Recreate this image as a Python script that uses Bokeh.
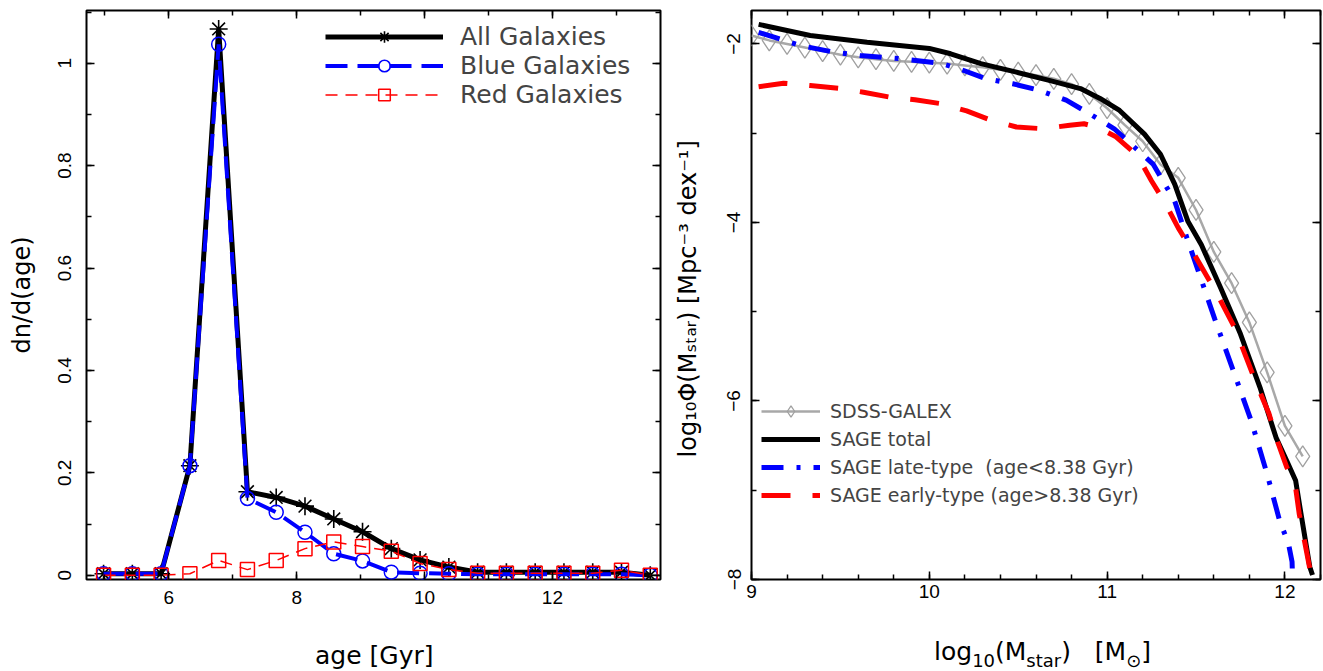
from bokeh.plotting import figure
from bokeh.models import (Range1d, LinearAxis, SingleIntervalTicker, CustomJSTickFormatter,
                          CustomLabelingPolicy, Legend, LegendItem, Div)
from bokeh.layouts import row, column
from bokeh.embed import file_html
from bokeh.resources import INLINE

# ---------------- left panel data ----------------
age = [4.98, 5.43, 5.88, 6.33, 6.78, 7.23, 7.68, 8.13, 8.58, 9.03,
       9.48, 9.93, 10.38, 10.83, 11.28, 11.73, 12.18, 12.63, 13.08, 13.53]
all_gal = [0.003, 0.003, 0.003, 0.214, 1.067, 0.163, 0.152, 0.135, 0.110, 0.085,
           0.052, 0.030, 0.016, 0.006, 0.006, 0.006, 0.006, 0.006, 0.006, 0.0]
blue_gal = [0.003, 0.003, 0.003, 0.214, 1.037, 0.150, 0.123, 0.084, 0.042, 0.028,
            0.006, 0.004, 0.003, 0.002, 0.002, 0.002, 0.002, 0.002, 0.002, 0.0]
red_gal = [0.0, 0.0, 0.0, 0.003, 0.029, 0.011, 0.029, 0.052, 0.065, 0.056,
           0.047, 0.023, 0.011, 0.004, 0.004, 0.004, 0.004, 0.004, 0.010, 0.0]

# ---------------- right panel data ----------------
sdss_x = [9.0, 9.1, 9.2, 9.3, 9.4, 9.5, 9.6, 9.7, 9.8, 9.9, 10.0, 10.1, 10.2, 10.3,
          10.4, 10.5, 10.6, 10.7, 10.8, 10.9, 11.0, 11.1, 11.2, 11.3, 11.4, 11.5,
          11.6, 11.7, 11.8, 11.9, 12.0, 12.1]
sdss_y = [-1.905, -1.96, -2.00, -2.04, -2.08, -2.12, -2.15, -2.17, -2.19, -2.20, -2.21,
          -2.22, -2.24, -2.26, -2.29, -2.32, -2.35, -2.39, -2.45, -2.56, -2.72, -2.91,
          -3.09, -3.35, -3.50, -3.86, -4.33, -4.68, -5.12, -5.68, -6.28, -6.62]

total_x = [9.04, 9.33, 9.65, 10.0, 10.12, 10.29, 10.49, 10.68, 10.85, 10.96, 11.07,
           11.21, 11.30, 11.38, 11.455, 11.53, 11.64, 11.75, 11.86, 11.95, 12.01, 12.06,
           12.09, 12.14, 12.155]
total_y = [-1.78, -1.905, -1.98, -2.05, -2.11, -2.22, -2.316, -2.41, -2.50, -2.61, -2.745,
           -3.01, -3.235, -3.57, -3.99, -4.25, -4.74, -5.25, -5.85, -6.41, -6.67, -6.89,
           -7.26, -7.86, -7.95]

late_x = [9.04, 9.275, 9.46, 9.61, 9.84, 10.06, 10.17, 10.32, 10.47, 10.62, 10.77, 10.90,
          11.04, 11.26, 11.38, 11.455, 11.605, 11.74, 11.81, 11.90, 11.97, 12.02, 12.04, 12.045]
late_y = [-1.87, -2.017, -2.09, -2.13, -2.166, -2.215, -2.28, -2.39, -2.446, -2.52, -2.63,
          -2.78, -2.95, -3.35, -3.76, -4.21, -5.08, -5.83, -6.22, -6.82, -7.34, -7.60,
          -7.80, -8.10]

early_x = [9.04, 9.18, 9.33, 9.50, 9.63, 9.79, 9.92, 10.07, 10.21, 10.35, 10.49, 10.64,
           10.79, 10.87, 10.94, 11.05, 11.17, 11.25, 11.32, 11.40, 11.47, 11.61, 11.72,
           11.84, 11.91, 11.95, 12.01, 12.06, 12.08, 12.14]
early_y = [-2.48, -2.44, -2.465, -2.50, -2.54, -2.60, -2.625, -2.67, -2.75, -2.857, -2.93,
           -2.95, -2.91, -2.894, -2.93, -3.04, -3.25, -3.535, -3.76, -4.06, -4.29, -4.77,
           -5.19, -5.81, -6.14, -6.41, -6.74, -6.97, -7.26, -7.88]

TICK_FONT = "Liberation Sans"
TEXT_FONT = "DejaVu Sans"

FMT = CustomJSTickFormatter(code="return Number(tick.toFixed(2)).toString().replace('-', '\\u2212');")
NO_LABELS = CustomLabelingPolicy(code="for (const i of indices) { indices.unset(i) } return indices")


def add_axes(p, xint, xminor, yint, yminor, ylabel, xl_standoff, yl_standoff, ya_standoff):
    xt = SingleIntervalTicker(interval=xint, num_minor_ticks=xminor)
    yt = SingleIntervalTicker(interval=yint, num_minor_ticks=yminor)
    bottom = LinearAxis(ticker=xt, formatter=FMT)
    left = LinearAxis(ticker=yt, formatter=FMT, axis_label=ylabel)
    top = LinearAxis(ticker=xt, major_label_policy=NO_LABELS)
    right = LinearAxis(ticker=yt, major_label_policy=NO_LABELS)
    for ax in (bottom, left, top, right):
        ax.axis_line_color = None
        ax.major_tick_in = 8
        ax.major_tick_out = 0
        ax.minor_tick_in = 5
        ax.minor_tick_out = 0
        ax.major_tick_line_width = 1.5
        ax.minor_tick_line_width = 1.5
        ax.major_tick_line_color = "black"
        ax.minor_tick_line_color = "black"
        ax.major_label_text_font = TICK_FONT
        ax.major_label_text_font_size = "19px"
        ax.major_label_text_color = "black"
        ax.axis_label_text_font = TEXT_FONT
        ax.axis_label_text_font_size = "24px"
        ax.axis_label_text_font_style = "normal"
        ax.axis_label_text_color = "black"
    for ax in (top, right):
        ax.major_label_text_font_size = "0px"
        ax.major_label_standoff = 0
    bottom.major_label_standoff = xl_standoff
    left.major_label_standoff = yl_standoff
    left.axis_label_standoff = ya_standoff
    left.major_label_orientation = "vertical"
    p.add_layout(bottom, "below")
    p.add_layout(left, "left")
    p.add_layout(top, "above")
    p.add_layout(right, "right")


def base_fig(width, height, xr, yr, mbl, mbr, mbt, mbb):
    p = figure(width=width, height=height, x_range=Range1d(*xr), y_range=Range1d(*yr),
               x_axis_type=None, y_axis_type=None, toolbar_location=None,
               output_backend="svg", min_border_left=mbl, min_border_right=mbr,
               min_border_top=mbt, min_border_bottom=mbb)
    p.grid.visible = False
    p.outline_line_color = "black"
    p.outline_line_width = 2
    p.background_fill_color = "white"
    p.border_fill_color = "white"
    return p


# ---------------- left panel ----------------
p1 = base_fig(668, 627, (4.713, 13.69), (-0.0083, 1.103), 86, 8, 7, 46)
add_axes(p1, 2, 2, 0.2, 2, "dn/d(age)", 11, 15, 20)

l_all = p1.line(age, all_gal, line_color="black", line_width=5)
m_all = p1.scatter(age, all_gal, marker="asterisk", size=18, line_color="black", line_width=1.6)
l_blue = p1.line(age, blue_gal, line_color="blue", line_width=4, line_dash="22 10")
m_blue = p1.scatter(age, blue_gal, marker="circle", size=14, fill_color=None,
                    line_color="blue", line_width=1.5)
l_red = p1.line(age, red_gal, line_color="red", line_width=1.5, line_dash="12 8")
m_red = p1.scatter(age, red_gal, marker="square", size=14, fill_color=None,
                   line_color="red", line_width=1.5)

leg1 = Legend(items=[LegendItem(label="All Galaxies", renderers=[l_all, m_all]),
                     LegendItem(label="Blue Galaxies", renderers=[l_blue, m_blue]),
                     LegendItem(label="Red Galaxies", renderers=[l_red, m_red])],
              location=(239, 470), padding=0, spacing=0, margin=0,
              glyph_width=118, glyph_height=29, label_height=29, label_standoff=17,
              label_text_font=TEXT_FONT, label_text_font_size="25px",
              border_line_color=None, background_fill_alpha=0)
p1.add_layout(leg1)

# ---------------- right panel ----------------
p2 = base_fig(654, 627, (9.0, 12.2), (-8.0, -1.625), 83, 2, 10, 48)
add_axes(p2, 1, 5, 2, 2,
         "log\u2081\u2080\u03a6(M\u209b\u209c\u2090\u1d63)  [Mpc\u207b\u00b3 dex\u207b\u00b9]",
         5, 11, 23)

l_sdss = p2.line(sdss_x, sdss_y, line_color="#a8a8a8", line_width=2.5)
m_sdss = p2.scatter(sdss_x, sdss_y, marker="diamond", size=21, fill_color=None,
                    line_color="#a0a0a0", line_width=1.3)
l_tot = p2.line(total_x, total_y, line_color="black", line_width=5)
l_late = p2.line(late_x, late_y, line_color="blue", line_width=5, line_dash="22 13 4 13")
l_early = p2.line(early_x, early_y, line_color="red", line_width=5, line_dash="29 22")

leg2 = Legend(items=[LegendItem(label="SDSS-GALEX", renderers=[l_sdss, m_sdss]),
                     LegendItem(label="SAGE total", renderers=[l_tot]),
                     LegendItem(label="SAGE late-type  (age<8.38 Gyr)", renderers=[l_late]),
                     LegendItem(label="SAGE early-type (age>8.38 Gyr)", renderers=[l_early])],
              location=(10, 70), padding=0, spacing=0, margin=0,
              glyph_width=59, glyph_height=28, label_height=28, label_standoff=10,
              label_text_font=TEXT_FONT, label_text_font_size="19px",
              border_line_color=None, background_fill_alpha=0)
p2.add_layout(leg2)

# ---------------- x-axis titles (HTML, so that sub-scripts are real) ----------------
BASE = ("font-family:'DejaVu Sans'; color:black; white-space:nowrap; "
        "font-size:25px; line-height:25px;")
SUB = "font-size:18px; vertical-align:-7px;"
d1 = Div(width=668, height=43, margin=0,
         text=f'<div style="{BASE} margin-left:315px; margin-top:16px;">age [Gyr]</div>')
d2 = Div(width=654, height=43, margin=0,
         text=(f'<div style="{BASE} margin-left:266px; margin-top:12px;">'
               f'log<span style="{SUB}">10</span>(M<span style="{SUB}">star</span>)'
               f'&nbsp;&nbsp;&nbsp;[M<span style="{SUB}">&#8857;</span>]</div>'))

layout = column(row(p1, p2), row(d1, d2))
open("out.html", "w").write(file_html(layout, INLINE))
